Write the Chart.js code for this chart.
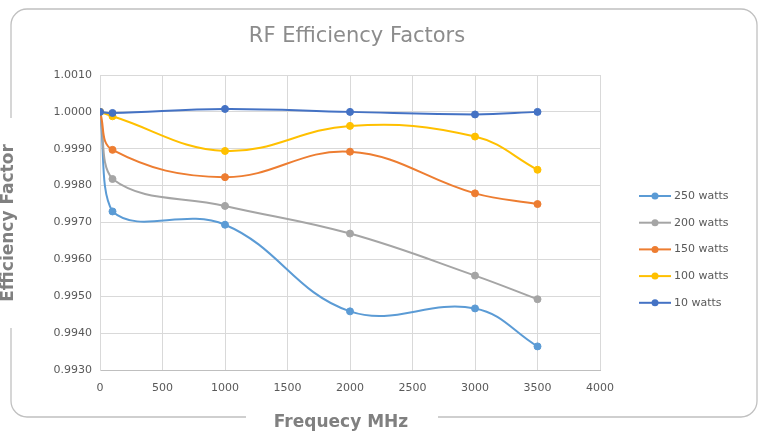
<!DOCTYPE html>
<html>
<head>
<meta charset="utf-8">
<script src="https://cdn.jsdelivr.net/npm/chart.js@4.4.1/dist/chart.umd.min.js"></script>
<style>
html, body { margin: 0; padding: 0; background: #fff; }
</style>
</head>
<body>
<canvas id="myChart" width="762" height="436"></canvas>
<script>
// frequencies (MHz) and efficiency factor per power level
var freqs = [0, 100, 1000, 2000, 3000, 3500];
var labels = ['250 watts', '200 watts', '150 watts', '100 watts', '10 watts'];
var w250 = [1.0000, 0.99730, 0.99694, 0.99459, 0.99467, 0.99364];
var w200 = [1.0000, 0.99818, 0.99745, 0.99670, 0.99556, 0.99492];
var w150 = [1.0000, 0.99897, 0.99823, 0.99892, 0.99779, 0.99750];
var w100 = [1.0000, 0.99988, 0.99894, 0.99962, 0.99933, 0.99843];
var w10 = [1.0000, 0.99997, 1.00008, 1.00000, 0.99993, 1.00000];
var colors = ['#5B9BD5', '#A5A5A5', '#ED7D31', '#FFC000', '#4472C4'];

function pts(vals) {
    return freqs.map(function (f, i) { return { x: f, y: vals[i] }; });
}

var series = [w250, w200, w150, w100, w10];
var datasets = series.map(function (vals, i) {
    return {
        label: labels[i],
        data: pts(vals),
        borderColor: colors[i],
        backgroundColor: colors[i],
        pointBackgroundColor: colors[i],
        pointBorderColor: colors[i],
        borderWidth: 2,
        pointRadius: 3.5,
        pointBorderWidth: 1,
        tension: 0.4,
        fill: false,
        // later series drawn on top, like the original
        order: series.length - i
    };
});

// border, titles and legend drawn around the plot
var frame = {
    id: 'frame',
    beforeDraw: function (chart) {
        var c = chart.ctx;
        c.save();
        c.fillStyle = '#fff';
        c.fillRect(0, 0, chart.width, chart.height);

        var x0 = 11, y0 = 9, x1 = 757, y1 = 417, r = 16;
        c.beginPath();
        c.moveTo(x0 + r, y0);
        c.lineTo(x1 - r, y0);
        c.arcTo(x1, y0, x1, y0 + r, r);
        c.lineTo(x1, y1 - r);
        c.arcTo(x1, y1, x1 - r, y1, r);
        c.lineTo(x0 + r, y1);
        c.arcTo(x0, y1, x0, y1 - r, r);
        c.lineTo(x0, y0 + r);
        c.arcTo(x0, y0, x0 + r, y0, r);
        c.closePath();
        c.strokeStyle = '#c0c0c0';
        c.lineWidth = 1.3;
        c.stroke();

        // gaps in the border behind the axis titles
        c.fillStyle = '#fff';
        c.fillRect(0, 118, 24, 210);
        c.fillRect(246, 408, 192, 20);

        c.textAlign = 'center';
        c.textBaseline = 'middle';
        c.fillStyle = '#8c8c8c';
        c.font = '21px "DejaVu Sans"';
        c.fillText('RF Efficiency Factors', 357, 37);

        c.fillStyle = '#808080';
        c.font = 'bold 17px "DejaVu Sans"';
        c.fillText('Frequecy MHz', 341, 423);

        c.translate(9, 223);
        c.rotate(-Math.PI / 2);
        c.fillText('Efficiency Factor', 0, 0);
        c.restore();
    },
    afterDraw: function (chart) {
        var c = chart.ctx;
        c.save();
        chart.data.datasets.forEach(function (ds, i) {
            var y = 196 + i * 26.7;
            c.strokeStyle = ds.borderColor;
            c.lineWidth = 2;
            c.beginPath();
            c.moveTo(639, y);
            c.lineTo(671, y);
            c.stroke();
            c.fillStyle = ds.borderColor;
            c.beginPath();
            c.arc(655, y, 3.5, 0, Math.PI * 2);
            c.fill();
            c.fillStyle = '#595959';
            c.font = '11px "DejaVu Sans"';
            c.textAlign = 'left';
            c.textBaseline = 'middle';
            c.fillText(ds.label, 674, y);
        });
        c.restore();
    }
};

var ctx = document.getElementById('myChart').getContext('2d');
var chart = new Chart(ctx, {
    type: 'line',
    data: { datasets: datasets },
    options: {
        responsive: false,
        animation: false,
        devicePixelRatio: 1,
        layout: { padding: { top: 75, right: 162, left: 0, bottom: 0 } },
        plugins: {
            legend: { display: false },
            title: { display: false },
            tooltip: { enabled: false }
        },
        scales: {
            x: {
                type: 'linear',
                min: 0,
                max: 4000,
                ticks: {
                    stepSize: 500,
                    color: '#595959',
                    font: { family: 'DejaVu Sans', size: 11 },
                    padding: 12,
                    maxRotation: 0,
                    callback: function (v) { return String(v); }
                },
                grid: { color: '#d9d9d9', drawTicks: false },
                border: { color: '#bfbfbf' },
                afterFit: function (s) { s.height = 66; }
            },
            y: {
                min: 0.993,
                max: 1.001,
                ticks: {
                    stepSize: 0.001,
                    color: '#595959',
                    font: { family: 'DejaVu Sans', size: 11 },
                    padding: 8,
                    callback: function (v) { return v.toFixed(4); }
                },
                grid: { color: '#d9d9d9', drawTicks: false },
                border: { color: '#d9d9d9' },
                afterFit: function (s) { s.width = 100; }
            }
        }
    },
    plugins: [frame]
});
</script>
</body>
</html>
